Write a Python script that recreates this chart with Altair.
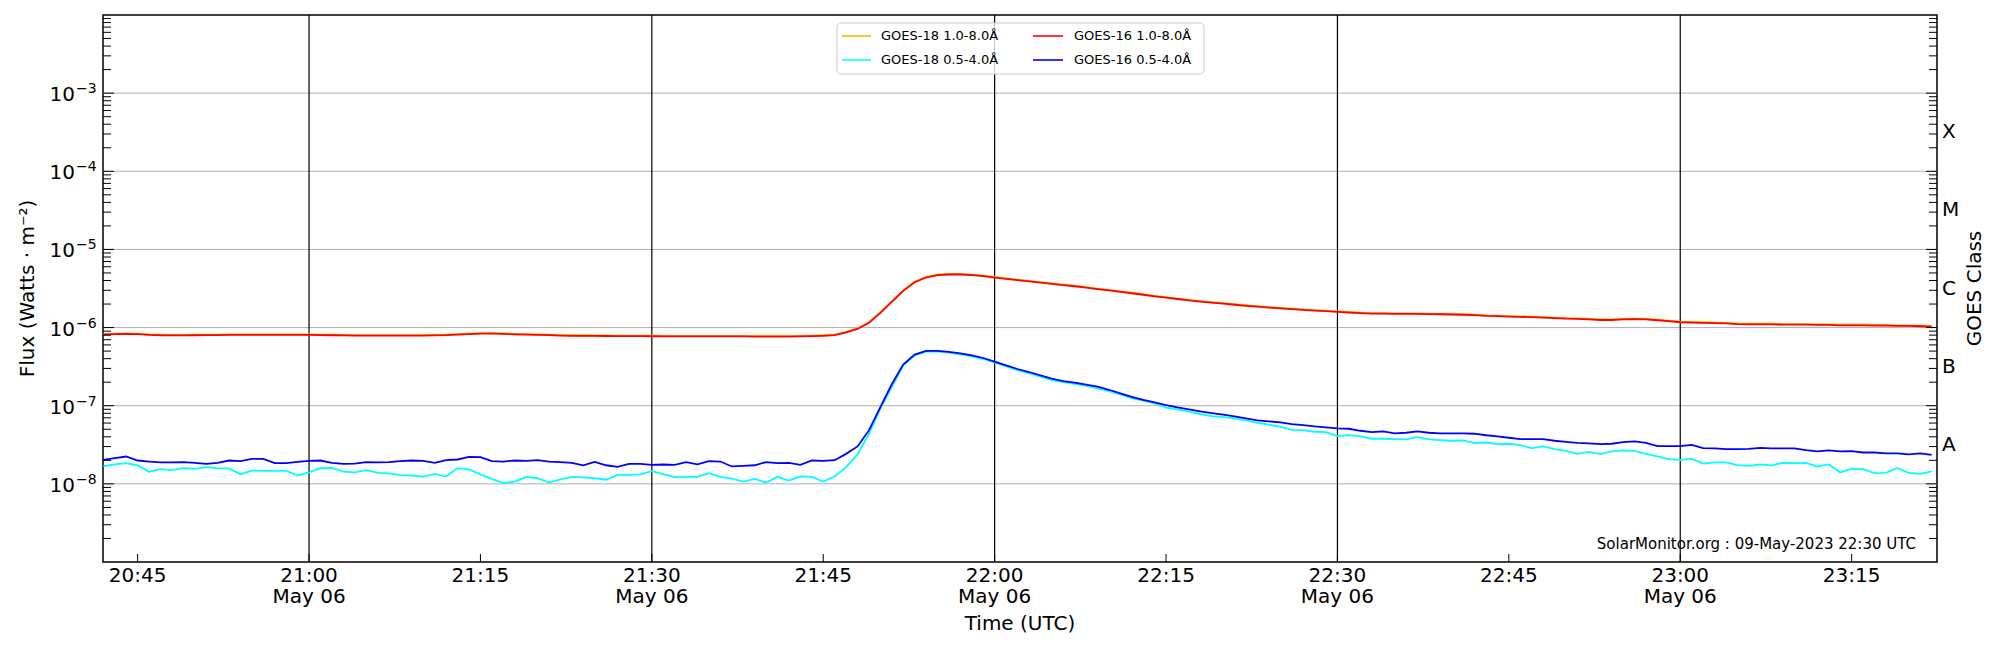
import altair as alt
import pandas as pd

# ---------------- data ----------------
START = "2023-05-06 20:42"      # first sample, 1-minute cadence
N_SAMPLES = 161

# GOES-16 1.0-8.0 A  (units of 1e-6 W m^-2)
goes16_long = [
    0.813, 0.822, 0.830, 0.822, 0.805, 0.797, 0.795, 0.795, 0.797, 0.800,
    0.802, 0.805, 0.805, 0.805, 0.805, 0.805, 0.805, 0.805, 0.805, 0.800,
    0.797, 0.793, 0.790, 0.790, 0.790, 0.790, 0.790, 0.790, 0.790, 0.795,
    0.800, 0.813, 0.825, 0.835, 0.835, 0.830, 0.820, 0.810, 0.805, 0.800,
    0.790, 0.785, 0.785, 0.782, 0.780, 0.778, 0.776, 0.775, 0.774, 0.773,
    0.773, 0.773, 0.772, 0.772, 0.772, 0.771, 0.770, 0.768, 0.768, 0.768,
    0.768, 0.770, 0.775, 0.785, 0.800, 0.870, 0.960, 1.15, 1.54, 2.13,
    2.95, 3.81, 4.37, 4.69, 4.78, 4.78, 4.69, 4.55, 4.37, 4.21,
    4.05, 3.90, 3.76, 3.63, 3.50, 3.38, 3.24, 3.11, 2.99, 2.87,
    2.75, 2.63, 2.51, 2.41, 2.32, 2.23, 2.15, 2.08, 2.02, 1.96,
    1.90, 1.85, 1.80, 1.76, 1.72, 1.68, 1.65, 1.62, 1.59, 1.56,
    1.53, 1.51, 1.51, 1.50, 1.50, 1.50, 1.49, 1.48, 1.47, 1.46,
    1.44, 1.41, 1.40, 1.38, 1.37, 1.36, 1.34, 1.32, 1.30, 1.29,
    1.27, 1.25, 1.25, 1.27, 1.28, 1.27, 1.24, 1.21, 1.17, 1.16,
    1.15, 1.14, 1.13, 1.11, 1.10, 1.10, 1.10, 1.09, 1.09, 1.09,
    1.08, 1.08, 1.07, 1.07, 1.07, 1.06, 1.06, 1.05, 1.05, 1.04, 1.03,
]

# GOES-18 1.0-8.0 A  (units of 1e-6 W m^-2)
goes18_long = [
    0.825, 0.834, 0.842, 0.834, 0.817, 0.809, 0.807, 0.807, 0.809, 0.812,
    0.814, 0.817, 0.817, 0.817, 0.817, 0.817, 0.817, 0.817, 0.817, 0.812,
    0.809, 0.805, 0.802, 0.802, 0.802, 0.802, 0.802, 0.802, 0.802, 0.807,
    0.812, 0.825, 0.837, 0.848, 0.848, 0.842, 0.832, 0.822, 0.817, 0.812,
    0.802, 0.797, 0.797, 0.794, 0.792, 0.790, 0.788, 0.787, 0.786, 0.785,
    0.785, 0.785, 0.784, 0.784, 0.784, 0.783, 0.782, 0.780, 0.780, 0.780,
    0.780, 0.782, 0.787, 0.797, 0.812, 0.883, 0.974, 1.17, 1.56, 2.16,
    2.99, 3.87, 4.44, 4.76, 4.85, 4.85, 4.76, 4.62, 4.44, 4.27,
    4.11, 3.96, 3.82, 3.68, 3.55, 3.43, 3.29, 3.16, 3.03, 2.91,
    2.79, 2.67, 2.55, 2.45, 2.35, 2.26, 2.18, 2.11, 2.05, 1.99,
    1.93, 1.88, 1.83, 1.79, 1.75, 1.71, 1.67, 1.64, 1.61, 1.58,
    1.55, 1.53, 1.53, 1.52, 1.52, 1.52, 1.51, 1.50, 1.49, 1.48,
    1.46, 1.43, 1.42, 1.40, 1.39, 1.38, 1.36, 1.34, 1.32, 1.31,
    1.29, 1.27, 1.27, 1.29, 1.30, 1.29, 1.26, 1.23, 1.19, 1.18,
    1.17, 1.16, 1.15, 1.13, 1.12, 1.12, 1.12, 1.11, 1.11, 1.11,
    1.10, 1.10, 1.09, 1.09, 1.09, 1.08, 1.08, 1.07, 1.07, 1.06, 1.05,
]

# GOES-16 0.5-4.0 A  (units of 1e-8 W m^-2)
goes16_short = [
    2.03, 2.13, 2.24, 1.99, 1.93, 1.88, 1.88, 1.90, 1.86, 1.80,
    1.86, 1.99, 1.95, 2.09, 2.09, 1.84, 1.84, 1.91, 1.97, 1.99,
    1.86, 1.80, 1.82, 1.90, 1.88, 1.90, 1.95, 1.99, 1.97, 1.86,
    2.01, 2.05, 2.22, 2.20, 1.95, 1.93, 1.99, 1.97, 2.01, 1.93,
    1.90, 1.86, 1.73, 1.91, 1.73, 1.65, 1.80, 1.80, 1.75, 1.77,
    1.75, 1.90, 1.78, 1.95, 1.93, 1.67, 1.70, 1.73, 1.90, 1.84,
    1.86, 1.75, 1.99, 1.97, 2.01, 2.42, 3.01, 4.83, 9.62, 18.8,
    33.6, 45.1, 50.2, 50.2, 48.8, 46.9, 44.2, 40.8, 36.6, 32.9,
    29.5, 27.0, 24.5, 22.2, 20.7, 19.7, 18.6, 17.5, 16.0, 14.4,
    13.0, 11.9, 11.0, 10.2, 9.52, 8.97, 8.46, 8.05, 7.67, 7.30,
    6.88, 6.49, 6.30, 6.11, 5.82, 5.65, 5.43, 5.27, 5.12, 5.07,
    4.78, 4.60, 4.69, 4.42, 4.51, 4.69, 4.51, 4.42, 4.42, 4.42,
    4.38, 4.19, 4.04, 3.89, 3.74, 3.74, 3.74, 3.56, 3.45, 3.35,
    3.29, 3.22, 3.26, 3.42, 3.49, 3.35, 3.04, 3.04, 3.04, 3.16,
    2.87, 2.84, 2.78, 2.78, 2.81, 2.89, 2.84, 2.84, 2.84, 2.70,
    2.60, 2.68, 2.60, 2.62, 2.52, 2.52, 2.45, 2.45, 2.38, 2.45, 2.35,
]

# GOES-18 0.5-4.0 A  (units of 1e-8 W m^-2)
goes18_short = [
    1.68, 1.77, 1.84, 1.72, 1.43, 1.54, 1.50, 1.59, 1.56, 1.64,
    1.59, 1.57, 1.33, 1.48, 1.47, 1.48, 1.47, 1.28, 1.40, 1.59,
    1.60, 1.43, 1.40, 1.50, 1.38, 1.36, 1.29, 1.28, 1.24, 1.34,
    1.24, 1.59, 1.53, 1.32, 1.16, 1.02, 1.07, 1.23, 1.18, 1.04,
    1.14, 1.23, 1.21, 1.18, 1.13, 1.30, 1.30, 1.32, 1.45, 1.33,
    1.22, 1.23, 1.23, 1.37, 1.23, 1.17, 1.07, 1.16, 1.04, 1.23,
    1.10, 1.25, 1.23, 1.07, 1.24, 1.64, 2.38, 4.38, 9.16, 17.3,
    32.9, 44.2, 49.2, 49.2, 47.7, 45.5, 42.9, 39.6, 35.9, 31.9,
    28.6, 26.2, 23.5, 21.3, 20.1, 19.0, 17.9, 16.7, 15.4, 14.0,
    12.5, 11.6, 10.7, 9.43, 8.97, 8.38, 7.82, 7.37, 7.15, 6.88,
    6.49, 6.05, 5.71, 5.38, 4.92, 4.88, 4.64, 4.60, 4.08, 4.21,
    4.04, 3.78, 3.78, 3.74, 3.70, 3.97, 3.70, 3.63, 3.56, 3.59,
    3.32, 3.38, 3.22, 3.26, 3.13, 2.87, 3.01, 2.78, 2.65, 2.42,
    2.57, 2.40, 2.60, 2.68, 2.65, 2.42, 2.24, 2.07, 2.03, 2.09,
    1.82, 1.88, 1.88, 1.74, 1.70, 1.77, 1.72, 1.86, 1.84, 1.86,
    1.67, 1.77, 1.40, 1.57, 1.54, 1.37, 1.38, 1.60, 1.38, 1.34, 1.44,
]

series_names = ["GOES-18 1.0-8.0Å", "GOES-18 0.5-4.0Å",
                "GOES-16 1.0-8.0Å", "GOES-16 0.5-4.0Å"]
series_values = [goes18_long, goes18_short, goes16_long, goes16_short]
series_units = [1e-6, 1e-8, 1e-6, 1e-8]
series_colors = ["#ffb000", "#00ffff", "#ff0000", "#0000ff"]

time_labels = ["20:45", "21:00", "21:15", "21:30", "21:45", "22:00",
               "22:15", "22:30", "22:45", "23:00", "23:15"]
date_label = "May 06"
ytick_exps = [-3, -4, -5, -6, -7, -8]
goes_classes = ["A", "B", "C", "M", "X"]
class_lower = [1e-8, 1e-7, 1e-6, 1e-5, 1e-4]
watermark = "SolarMonitor.org : 09-May-2023 22:30 UTC"

# ---------------- layout ----------------
W, H = 1834, 547
FONT = "DejaVu Sans"
XMIN, XMAX = 41.97, 202.47          # minutes after 20:00
YMIN, YMAX = 1e-9, 1e-2

times = pd.date_range(START, periods=N_SAMPLES, freq="min")
minutes = [(t.hour - 20) * 60 + t.minute for t in times]

xs = alt.Scale(domain=[XMIN, XMAX], nice=False, zero=False)
ys = alt.Scale(type="log", domain=[YMIN, YMAX], nice=False)


def X(f):
    return alt.X(f, type="quantitative", scale=xs, axis=None)


def Y(f):
    return alt.Y(f, type="quantitative", scale=ys, axis=None)


def hm(s):
    h, m = s.split(":")
    return (int(h) - 20) * 60 + int(m)


layers = []

# horizontal decade grid
dec_df = pd.DataFrame({"v": [10.0 ** e for e in range(-8, -2)]})
layers.append(alt.Chart(dec_df).mark_rule(color="#b0b0b0", strokeWidth=1).encode(
    y=Y("v"), x=alt.value(0), x2=alt.value(W)))

# vertical black lines every 30 minutes
tick_df = pd.DataFrame({"lab": time_labels, "m": [hm(s) for s in time_labels]})
half_df = tick_df[tick_df["m"] % 30 == 0].copy()
half_df["date"] = date_label
layers.append(alt.Chart(half_df).mark_rule(color="black", strokeWidth=1.2).encode(
    x=X("m"), y=alt.value(0), y2=alt.value(H)))

# data lines
for name, vals, unit, col in zip(series_names, series_values, series_units, series_colors):
    df = pd.DataFrame({"minute": minutes, "flux": [v * unit for v in vals], "series": name})
    layers.append(alt.Chart(df).mark_line(color=col, strokeWidth=1.8, clip=True).encode(
        x=X("minute"), y=Y("flux")))

# y ticks (inward) on both sides
major_df = pd.DataFrame({"v": [10.0 ** e for e in range(-8, -2)]})
minor_df = pd.DataFrame({"v": [k * 10.0 ** e for e in range(-9, -2) for k in range(2, 10)]})
for df, ln in [(major_df, 11), (minor_df, 8)]:
    layers.append(alt.Chart(df).mark_rule(color="black", strokeWidth=1).encode(
        y=Y("v"), x=alt.value(0), x2=alt.value(ln)))
    layers.append(alt.Chart(df).mark_rule(color="black", strokeWidth=1).encode(
        y=Y("v"), x=alt.value(W - ln), x2=alt.value(W)))

# x ticks (inward)
layers.append(alt.Chart(tick_df).mark_rule(color="black", strokeWidth=1).encode(
    x=X("m"), y=alt.value(H - 8), y2=alt.value(H)))

# y tick labels 10^-n
ylab_df = pd.DataFrame({"v": [10.0 ** e for e in ytick_exps],
                        "base": ["10"] * len(ytick_exps),
                        "sup": ["\u2212" + str(-e) for e in ytick_exps]})
layers.append(alt.Chart(ylab_df).mark_text(font=FONT, fontSize=20, align="right",
                                           baseline="alphabetic", dy=8).encode(
    y=Y("v"), x=alt.value(-28), text="base:N"))
layers.append(alt.Chart(ylab_df).mark_text(font=FONT, fontSize=14, align="left",
                                           baseline="alphabetic", dy=0).encode(
    y=Y("v"), x=alt.value(-27), text="sup:N"))

# GOES class labels on the right
cls_df = pd.DataFrame({"c": goes_classes, "v": [b * 10 ** 0.5 for b in class_lower]})
layers.append(alt.Chart(cls_df).mark_text(font=FONT, fontSize=20, align="left",
                                          baseline="middle").encode(
    y=Y("v"), x=alt.value(W + 5), text="c:N"))

# x tick labels
layers.append(alt.Chart(tick_df).mark_text(font=FONT, fontSize=20, align="center",
                                           baseline="alphabetic").encode(
    x=X("m"), y=alt.value(H + 20), text="lab:N"))
layers.append(alt.Chart(half_df).mark_text(font=FONT, fontSize=20, align="center",
                                           baseline="alphabetic").encode(
    x=X("m"), y=alt.value(H + 41), text="date:N"))

# axis titles
titles = pd.DataFrame({"t": ["Time (UTC)", "Flux (Watts · m⁻²)", "GOES Class"]})
layers.append(alt.Chart(titles.iloc[[0]]).mark_text(font=FONT, fontSize=20, align="center",
                                                    baseline="alphabetic").encode(
    x=alt.value(W / 2), y=alt.value(H + 68), text="t:N"))
layers.append(alt.Chart(titles.iloc[[1]]).mark_text(font=FONT, fontSize=20, align="center",
                                                    baseline="middle", angle=270).encode(
    x=alt.value(-75), y=alt.value(H / 2), text="t:N"))
layers.append(alt.Chart(titles.iloc[[2]]).mark_text(font=FONT, fontSize=20, align="center",
                                                    baseline="middle", angle=270).encode(
    x=alt.value(W + 38), y=alt.value(H / 2), text="t:N"))

# watermark
layers.append(alt.Chart(pd.DataFrame({"t": [watermark]})).mark_text(
    font=FONT, fontSize=15, align="right", baseline="alphabetic").encode(
    x=alt.value(W - 21), y=alt.value(H - 13), text="t:N"))

# legend (matplotlib style, 2 columns)
LX0, LX1, LY0, LY1 = 734, 1101, 8, 59
layers.append(alt.Chart(pd.DataFrame({"t": ["legend"]})).mark_rect(
    fill="white", fillOpacity=0.8, stroke="#cccccc", strokeWidth=1, cornerRadius=4).encode(
    x=alt.value(LX0), x2=alt.value(LX1), y=alt.value(LY0), y2=alt.value(LY1)))
col_sym = [(739, 768, 778), (930, 960, 971)]
row_y = [21, 45]
for i, (name, col) in enumerate(zip(series_names, series_colors)):
    sx0, sx1, tx = col_sym[i // 2]
    ry = row_y[i % 2]
    ldf = pd.DataFrame({"t": [name]})
    layers.append(alt.Chart(ldf).mark_rule(color=col, strokeWidth=1.6).encode(
        x=alt.value(sx0), x2=alt.value(sx1), y=alt.value(ry)))
    layers.append(alt.Chart(ldf).mark_text(font=FONT, fontSize=13, align="left",
                                           baseline="middle").encode(
        x=alt.value(tx), y=alt.value(ry), text="t:N"))

chart = alt.layer(*layers).properties(
    width=W, height=H,
    autosize=alt.AutoSizeParams(type="none"),
    padding={"left": 95, "top": 7, "right": 50, "bottom": 80},
    background="white",
).configure_view(stroke="black", strokeWidth=1.5)

chart.save("out.html", embed_options={"renderer": "svg", "actions": False})
